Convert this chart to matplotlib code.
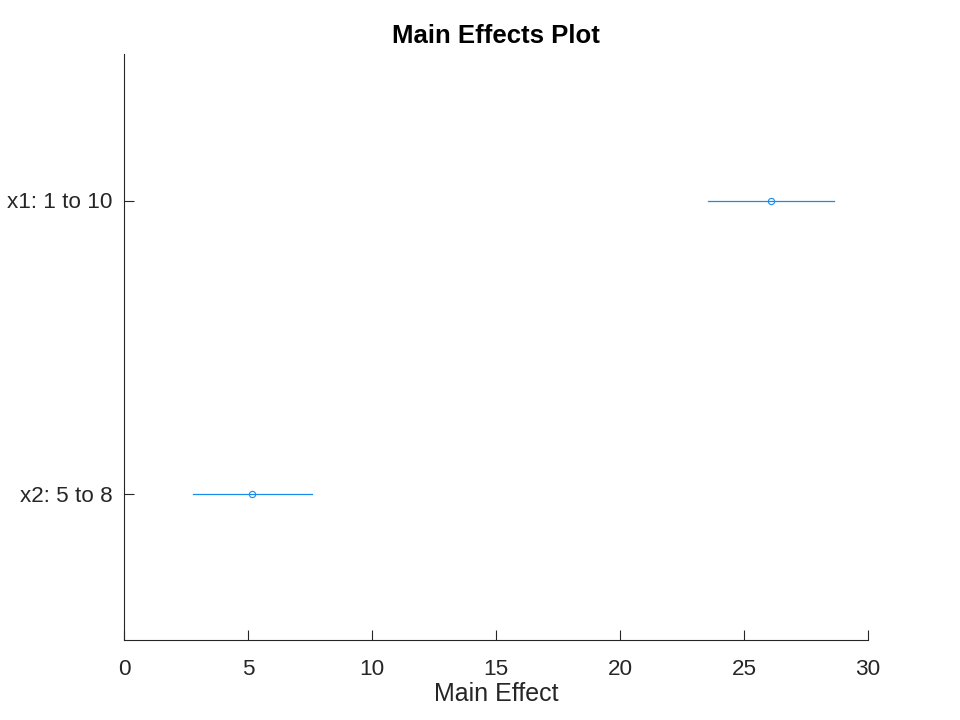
import matplotlib
matplotlib.use("Agg")
import matplotlib.pyplot as plt

factors = ["x2: 5 to 8", "x1: 1 to 10"]
effects = [5.16, 26.09]
lower = [2.78, 23.55]
upper = [7.58, 28.63]
xticks = [0, 5, 10, 15, 20, 25, 30]

plt.rcParams['font.family'] = ['Liberation Sans', 'DejaVu Sans']
fig = plt.figure(figsize=(9.6, 7.2), dpi=100)
ax = fig.add_axes([124/960, 80/720, 744/960, 586/720])
color = '#1a8ceb'
ypos = list(range(1, len(factors) + 1))
for y, e, lo, hi in zip(ypos, effects, lower, upper):
    ax.plot([lo, hi], [y, y], color=color, lw=0.9)
    ax.plot([e], [y], marker='o', ms=4.5, mfc='none', mec=color, mew=0.8, ls='none')

ax.set_xlim(0, 30)
ax.set_ylim(0.5, 2.5)
ax.set_xticks(xticks)
ax.set_yticks(ypos)
ax.set_yticklabels(factors)
ax.spines['top'].set_visible(False)
ax.spines['right'].set_visible(False)
for s in ['left', 'bottom']:
    ax.spines[s].set_color('#262626')
    ax.spines[s].set_linewidth(0.8)
ax.tick_params(direction='in', length=7, width=0.8, colors='#262626', labelsize=16.2)
ax.tick_params(axis='x', pad=14)
ax.tick_params(axis='y', pad=8.5)
ax.set_xlabel("Main Effect", fontsize=18, color='#262626', labelpad=1)
ax.set_title("Main Effects Plot", fontsize=18.5, fontweight='bold', color='black', pad=8)
fig.savefig("out.png", dpi=100)
